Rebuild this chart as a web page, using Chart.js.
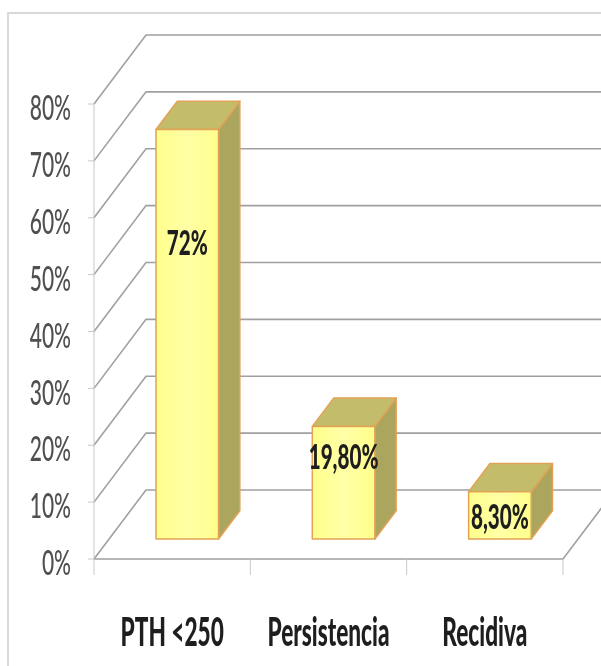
<!DOCTYPE html>
<html lang="es">
<head>
  <meta charset="UTF-8">
  <title>PTH</title>
  <script src="https://cdn.jsdelivr.net/npm/chart.js"></script>
  <style>
    body { margin: 0; background: #fff; }
    canvas { display: block; }
  </style>
</head>
<body>
  <canvas id="grafico" width="601" height="666"></canvas>

  <script>
    // datos
    const categorias = ['PTH <250', 'Persistencia', 'Recidiva'];
    const valores = [72, 19.8, 8.3];
    const ticksY = [0, 10, 20, 30, 40, 50, 60, 70, 80];

    const FUENTE = 'Lato, "Open Sans", sans-serif';
    const FONDO = { dx: 52, dy: -69 };   // profundidad de la pared del fondo
    const PROF_BARRA = [0.29, 0.70];     // la barra ocupa esta parte de la profundidad

    function formato(v) {
      return Number.isInteger(v) ? v + '%' : v.toFixed(2).replace('.', ',') + '%';
    }

    // texto estrecho y alto, como en la imagen original
    function texto(ctx, t, x, y, size, peso, color, align, sx, sy) {
      ctx.save();
      ctx.translate(x, y);
      ctx.scale(sx, sy);
      ctx.font = peso + ' ' + size + 'px ' + FUENTE;
      ctx.fillStyle = color;
      ctx.textAlign = align;
      ctx.textBaseline = 'middle';
      ctx.fillText(t, 0, 0);
      ctx.restore();
    }

    const fondo3d = {
      id: 'fondo3d',
      beforeDatasetsDraw(chart) {
        const ctx = chart.ctx;
        const a = chart.chartArea;
        const ys = chart.scales.y;

        ctx.save();
        // marco exterior
        ctx.strokeStyle = '#d9d9d9';
        ctx.lineWidth = 2;
        ctx.strokeRect(8, 13, 640, 700);

        // paredes: lineas del fondo y diagonales
        ctx.strokeStyle = '#a0a0a0';
        ctx.lineWidth = 1.6;
        ticksY.forEach(v => {
          const y = ys.getPixelForValue(v);
          ctx.beginPath();
          ctx.moveTo(a.left, y);
          ctx.lineTo(a.left + FONDO.dx, y + FONDO.dy);
          ctx.lineTo(a.right + FONDO.dx, y + FONDO.dy);
          ctx.stroke();
        });
        // suelo
        const y0 = ys.getPixelForValue(0);
        ctx.beginPath();
        ctx.moveTo(a.left, y0);
        ctx.lineTo(a.right, y0);
        ctx.lineTo(a.right + FONDO.dx, y0 + FONDO.dy);
        ctx.stroke();

        // eje vertical delantero
        ctx.strokeStyle = '#c8c8c8';
        ctx.lineWidth = 1;
        ctx.beginPath();
        ctx.moveTo(a.left, ys.getPixelForValue(80));
        ctx.lineTo(a.left, y0 + 16);
        ticksY.forEach(v => {
          const y = ys.getPixelForValue(v);
          ctx.moveTo(a.left - 6, y);
          ctx.lineTo(a.left, y);
        });
        // marcas de categoria
        const paso = (a.right - a.left) / categorias.length;
        for (let i = 1; i <= categorias.length; i++) {
          const x = a.left + i * paso;
          ctx.moveTo(x, y0);
          ctx.lineTo(x, y0 + 16);
        }
        ctx.stroke();
        ctx.restore();
      },
      afterDatasetsDraw(chart) {
        const ctx = chart.ctx;
        const ys = chart.scales.y;
        const xs = chart.scales.x;
        const meta = chart.getDatasetMeta(0);
        const f1 = PROF_BARRA[0], f2 = PROF_BARRA[1];
        const dx = (f2 - f1) * FONDO.dx, dy = (f2 - f1) * FONDO.dy;

        ctx.save();
        meta.data.forEach((el, i) => {
          const x0 = el.x - el.width / 2 + f1 * FONDO.dx;
          const x1 = el.x + el.width / 2 + f1 * FONDO.dx;
          const yT = el.y + f1 * FONDO.dy;
          const yB = el.base + f1 * FONDO.dy;

          ctx.strokeStyle = '#e2a256';
          ctx.lineWidth = 1.5;
          ctx.lineJoin = 'round';

          // cara lateral
          ctx.beginPath();
          ctx.moveTo(x1, yT);
          ctx.lineTo(x1 + dx, yT + dy);
          ctx.lineTo(x1 + dx, yB + dy);
          ctx.lineTo(x1, yB);
          ctx.closePath();
          ctx.fillStyle = '#aca55e';
          ctx.fill();
          ctx.stroke();

          // cara superior
          ctx.beginPath();
          ctx.moveTo(x0, yT);
          ctx.lineTo(x0 + dx, yT + dy);
          ctx.lineTo(x1 + dx, yT + dy);
          ctx.lineTo(x1, yT);
          ctx.closePath();
          ctx.fillStyle = '#c3bd6b';
          ctx.fill();
          ctx.stroke();

          // cara frontal
          const g = ctx.createLinearGradient(x0, 0, x1, 0);
          g.addColorStop(0, '#ffff8c');
          g.addColorStop(0.5, '#ffffa6');
          g.addColorStop(1, '#ffff8c');
          ctx.fillStyle = g;
          ctx.fillRect(x0, yT, x1 - x0, yB - yT);
          ctx.strokeRect(x0, yT, x1 - x0, yB - yT);

          // etiqueta de valor
          const h = yB - yT;
          const yl = Math.max(yT + 26, yB - 0.72 * h);
          texto(ctx, formato(valores[i]), (x0 + x1) / 2, yl, 24, '900', '#1e1e1e', 'center', 0.86, 1.46);
        });

        // etiquetas del eje Y
        ticksY.forEach(v => {
          texto(ctx, v + '%', chart.chartArea.left - 23, ys.getPixelForValue(v) + 5, 24, '500', '#505050', 'right', 0.875, 1.45);
        });
        // etiquetas de categoria
        categorias.forEach((c, i) => {
          texto(ctx, c, xs.getPixelForValue(i), 633, 26, '900', '#1e1e1e', 'center', 0.87, 1.52);
        });
        ctx.restore();
      }
    };

    new Chart(document.getElementById('grafico'), {
      type: 'bar',
      data: {
        labels: categorias,
        datasets: [{
          data: valores,
          backgroundColor: 'rgba(0,0,0,0)',
          borderWidth: 0,
          barPercentage: 0.4,
          categoryPercentage: 1.0
        }]
      },
      options: {
        responsive: false,
        animation: false,
        layout: { padding: { left: 94, right: 38, top: 104, bottom: 107 } },
        plugins: { legend: { display: false }, tooltip: { enabled: false } },
        scales: {
          x: { display: false },
          y: { display: false, min: 0, max: 80 }
        }
      },
      plugins: [fondo3d]
    });
  </script>
</body>
</html>
